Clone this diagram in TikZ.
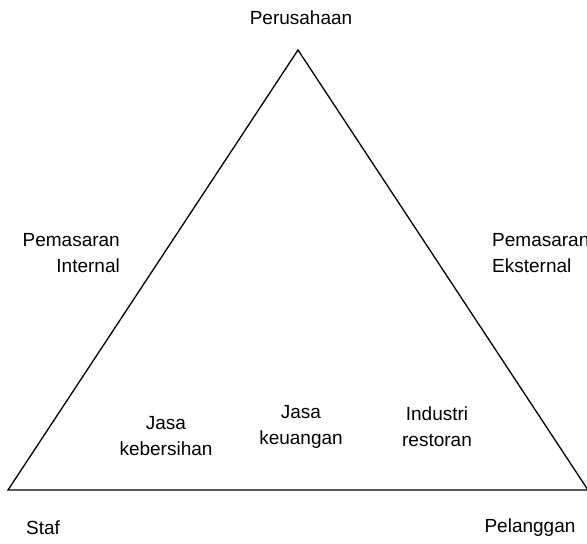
\documentclass[tikz,border=0pt]{standalone}
\usepackage{fontspec}
\setmainfont{Liberation Sans}
\begin{document}
\begin{tikzpicture}[x=1pt,y=-1pt,
  lbl/.style={inner sep=0pt,font=\fontsize{19}{26}\selectfont},
  edge/.style={line width=1.3pt,black}]
\useasboundingbox (0,0) rectangle (587,544);
\begin{scope}
\clip (0,0) rectangle (587,544);
\coordinate (top) at (298,50);
\coordinate (bl) at (8,490);
\coordinate (br) at (588,490);
\draw[edge] (top) -- (bl) -- (br) -- cycle;
\node[lbl] (per) at (301,18) {Perusahaan};
\node[lbl,align=right,anchor=north east] (pin) at (120,233) {Pemasaran\\Internal};
\node[lbl,align=left,anchor=north west] (pek) at (492,233) {Pemasaran\\Eksternal};
\node[lbl,align=center] (jk) at (166,436) {Jasa\\kebersihan};
\node[lbl,align=center] (ju) at (301,427) {Jasa\\keuangan};
\node[lbl,align=center] (ir) at (437,427) {Industri\\restoran};
\node[lbl] (staf) at (43,528) {Staf};
\node[lbl] (pel) at (530,528) {Pelanggan};
\end{scope}
\end{tikzpicture}
\end{document}
